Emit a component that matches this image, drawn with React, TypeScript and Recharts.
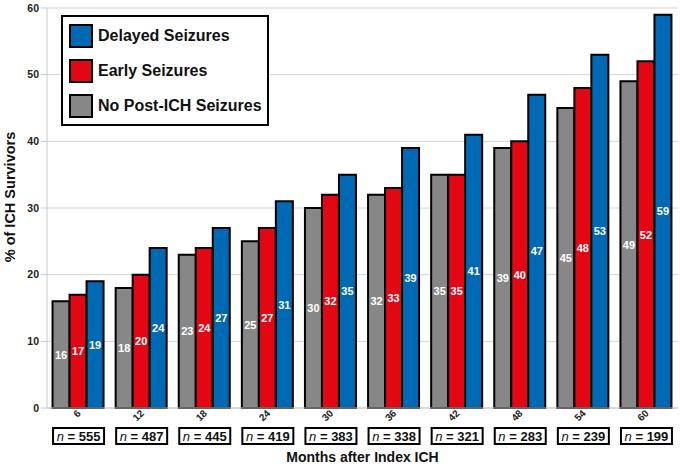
import React from 'react';
import { BarChart, Bar, XAxis, YAxis, CartesianGrid, Legend, LabelList } from 'recharts';

const months = ['6', '12', '18', '24', '30', '36', '42', '48', '54', '60'];
const nValues = [555, 487, 445, 419, 383, 338, 321, 283, 239, 199];
const noSeizures = [16, 18, 23, 25, 30, 32, 35, 39, 45, 49];
const earlySeizures = [17, 20, 24, 27, 32, 33, 35, 40, 48, 52];
const delayedSeizures = [19, 24, 27, 31, 35, 39, 41, 47, 53, 59];
const yTicks = [0, 10, 20, 30, 40, 50, 60];

const seriesInfo = [
  { key: 'delayed', name: 'Delayed Seizures', color: '#0069B4' },
  { key: 'early', name: 'Early Seizures', color: '#E30613' },
  { key: 'none', name: 'No Post-ICH Seizures', color: '#878787' },
];

const data = months.map((m, i) => ({
  month: m,
  n: nValues[i],
  none: noSeizures[i],
  early: earlySeizures[i],
  delayed: delayedSeizures[i],
}));

const FONT = 'Liberation Sans, Arial, sans-serif';
const C45 = 0.70710678;

const XTick = (props: any) => {
  const { x, y, payload, index } = props;
  const n = nValues[index ?? payload.index];
  const px = Number(x);
  const py = Number(y);
  const ax = px + 3;
  const ay = py + 6;
  return (
    <g>
      <text
        x={0}
        y={0}
        transform={`matrix(${C45} ${-C45} ${C45} ${C45} ${ax} ${ay})`}
        textAnchor="end"
        fontSize={10}
        fontWeight="bold"
        fontFamily={FONT}
        fill="#222"
      >
        {String(payload.value)}
      </text>
      <rect x={px - 25.5} y={py + 20} width={51} height={16} fill="#fff" stroke="#000" strokeWidth={2} />
      <text x={px} y={py + 33} textAnchor="middle" fontSize={13} fontWeight="bold" fontFamily={FONT} fill="#111">
        <tspan fontStyle="italic" fontWeight="normal">n</tspan>
        <tspan> = {n}</tspan>
      </text>
    </g>
  );
};

const YLabel = () => (
  <text
    x={10}
    y={197}
    transform="rotate(-90 10 197)"
    textAnchor="middle"
    dominantBaseline="central"
    fontSize={14.5}
    fontWeight="bold"
    fontFamily={FONT}
    fill="#111"
  >
    % of ICH Survivors
  </text>
);

const LegendBox = () => (
  <div
    style={{
      border: '2px solid #000',
      background: '#fff',
      width: 208,
      height: 111,
      boxSizing: 'border-box',
      padding: '2px 0 0 6px',
      fontFamily: FONT,
    }}
  >
    {seriesInfo.map((s) => (
      <div key={s.key} style={{ display: 'flex', alignItems: 'center', height: 34.7 }}>
        <div
          style={{
            width: 24,
            height: 24,
            boxSizing: 'border-box',
            border: '2px solid #000',
            background: s.color,
            marginRight: 5,
          }}
        />
        <span style={{ fontSize: 16, fontWeight: 'bold', color: '#111', whiteSpace: 'nowrap' }}>{s.name}</span>
      </div>
    ))}
  </div>
);

export default function App() {
  return (
    <div style={{ position: 'absolute', left: 0, top: 0, width: 680, height: 469, background: '#fff' }}>
      <BarChart
        width={680}
        height={469}
        data={data}
        margin={{ top: 8, right: 2, left: 0, bottom: 0 }}
        barGap={0}
        barCategoryGap="8.8%"
      >
        <CartesianGrid vertical={false} stroke="#d4d4d4" strokeWidth={1} />
        <XAxis
          dataKey="month"
          height={61}
          tickLine={false}
          tickSize={0}
          tickMargin={0}
          axisLine={{ stroke: '#c8c8c8' }}
          tick={(p: any) => <XTick {...p} />}
          interval={0}
          label={{
            value: 'Months after Index ICH',
            position: 'insideBottom',
            offset: 7,
            style: { fontSize: 14, fontWeight: 'bold', fill: '#111', fontFamily: FONT },
          }}
        />
        <YAxis
          width={47}
          domain={[0, 60]}
          ticks={yTicks}
          interval={0}
          tickSize={6}
          tickLine={{ stroke: '#c8c8c8' }}
          axisLine={{ stroke: '#c8c8c8' }}
          tick={{ fontSize: 10.5, fontWeight: 'bold', fill: '#222', fontFamily: FONT }}
          label={<YLabel />}
        />
        <Legend
          layout="horizontal"
          verticalAlign="middle"
          align="center"
          wrapperStyle={{ top: 15, left: 61, width: 'auto' }}
          content={() => <LegendBox />}
        />
        <Bar dataKey="none" name="No Post-ICH Seizures" fill="#878787" stroke="#000" strokeWidth={2} isAnimationActive={false}>
          <LabelList dataKey="none" position="center" fill="#fff" fontSize={11} fontWeight="bold" fontFamily={FONT} />
        </Bar>
        <Bar dataKey="early" name="Early Seizures" fill="#E30613" stroke="#000" strokeWidth={2} isAnimationActive={false}>
          <LabelList dataKey="early" position="center" fill="#fff" fontSize={11} fontWeight="bold" fontFamily={FONT} />
        </Bar>
        <Bar dataKey="delayed" name="Delayed Seizures" fill="#0069B4" stroke="#000" strokeWidth={2} isAnimationActive={false}>
          <LabelList dataKey="delayed" position="center" fill="#fff" fontSize={11} fontWeight="bold" fontFamily={FONT} />
        </Bar>
      </BarChart>
    </div>
  );
}
